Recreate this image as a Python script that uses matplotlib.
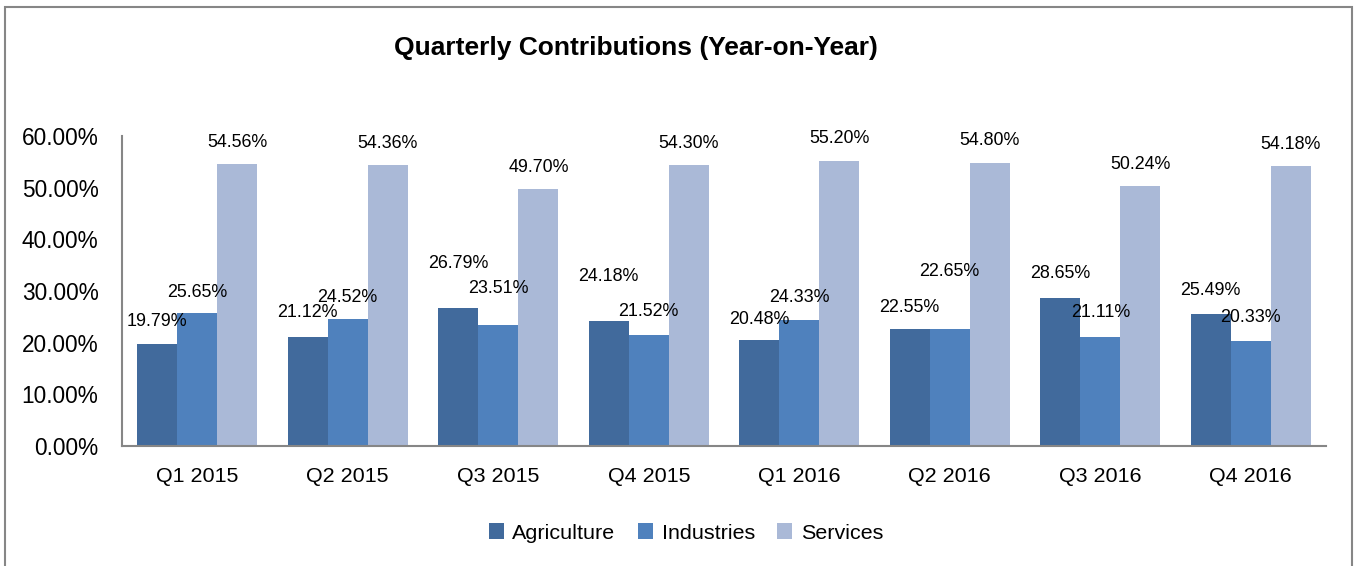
import matplotlib
matplotlib.use("Agg")
import matplotlib.pyplot as plt
import numpy as np
from matplotlib import font_manager
from matplotlib.patches import Rectangle

categories = ["Q1 2015", "Q2 2015", "Q3 2015", "Q4 2015",
              "Q1 2016", "Q2 2016", "Q3 2016", "Q4 2016"]
agriculture = [19.79, 21.12, 26.79, 24.18, 20.48, 22.55, 28.65, 25.49]
industries = [25.65, 24.52, 23.51, 21.52, 24.33, 22.65, 21.11, 20.33]
services = [54.56, 54.36, 49.70, 54.30, 55.20, 54.80, 50.24, 54.18]
series_names = ["Agriculture", "Industries", "Services"]
yticks = [0, 10, 20, 30, 40, 50, 60]

colors = ["#416A9C", "#4F81BD", "#AAB9D7"]

# label lift above bar top, in pixels (layout only)
label_lift = [
    [22, 24, 44, 45, 21, 22, 24, 24],
    [21, 22, 36, 23, 23, 57, 24, 23],
    [22, 22, 22, 22, 22, 22, 22, 22],
]

names = {f.name for f in font_manager.fontManager.ttflist}
narrow = "Liberation Sans Narrow" in names
if narrow:
    fam = ["Liberation Sans Narrow", "Liberation Sans", "DejaVu Sans"]
    scale = 1.0
else:
    fam = ["Liberation Sans", "DejaVu Sans"]
    scale = 0.86
plt.rcParams["font.family"] = fam

fig = plt.figure(figsize=(13.61, 5.66), dpi=100)
ax = fig.add_axes([122 / 1361, 1 - 446 / 566, (1326 - 122) / 1361, (446 - 136) / 566])

x = np.arange(len(categories))
w = 0.8 / 3
for i, (vals, name, c) in enumerate(zip([agriculture, industries, services], series_names, colors)):
    bars = ax.bar(x + (i - 1) * w, vals, width=w, color=c, label=name, edgecolor="none")
    for j, (b, v) in enumerate(zip(bars, vals)):
        ax.annotate(f"{v:.2f}%", (b.get_x() + b.get_width() / 2, b.get_height()),
                    xytext=(0, label_lift[i][j] * 0.72), textcoords="offset points",
                    ha="center", va="center", fontsize=15 * scale, color="#000000")

ax.set_xlim(-0.5, len(categories) - 0.5)
ax.set_ylim(0, 60)
ax.set_yticks(yticks)
ax.set_yticklabels([f"{t:.2f}%" for t in yticks], fontsize=19 * scale)
ax.set_xticks(x)
ax.set_xticklabels(categories, fontsize=18 * scale)
ax.tick_params(axis="y", length=0, pad=17)
ax.tick_params(axis="x", length=0, pad=15)
for s in ["top", "right"]:
    ax.spines[s].set_visible(False)
for s in ["left", "bottom"]:
    ax.spines[s].set_color("#868686")
    ax.spines[s].set_linewidth(1.5)

fig.text(636 / 1361, 1 - 48 / 566, "Quarterly Contributions (Year-on-Year)",
         ha="center", va="center", fontsize=19, fontweight="bold")

leg = fig.legend(loc="center", bbox_to_anchor=(686 / 1361, 1 - 533 / 566), ncol=3,
                 frameon=False, fontsize=18 * scale, handlelength=0.7, handleheight=0.7,
                 handletextpad=0.4, columnspacing=1.05)

fig.patches.append(Rectangle((5 / 1361, -0.05), 1347 / 1361, 1.05 - 7 / 566,
                             transform=fig.transFigure, fill=False,
                             edgecolor="#868686", linewidth=1.5))

fig.savefig("out.png", dpi=100)
